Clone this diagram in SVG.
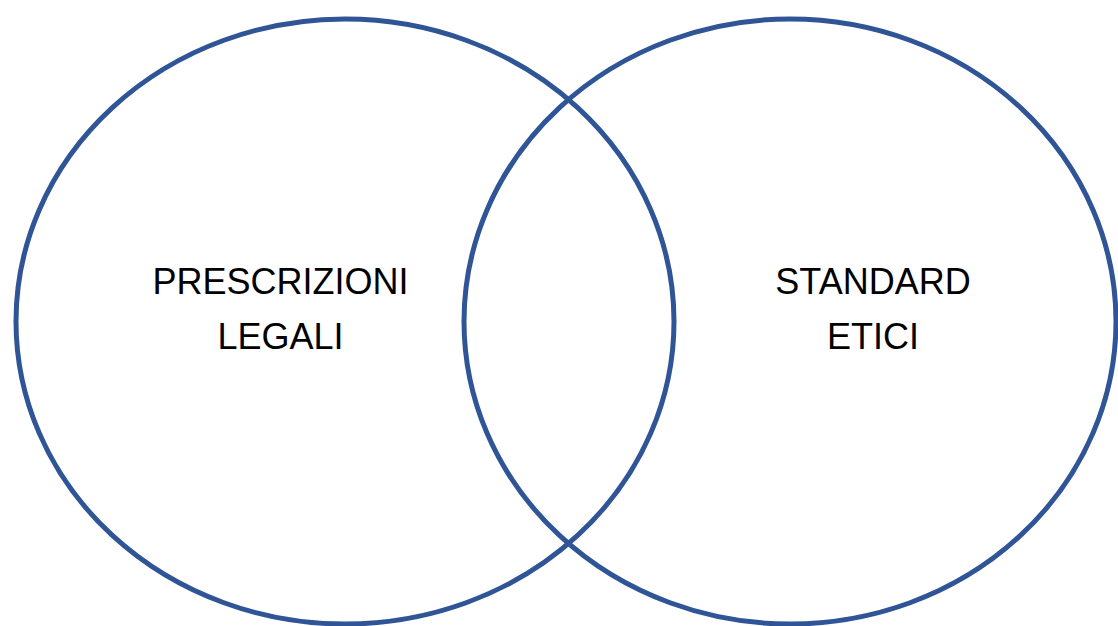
<svg xmlns="http://www.w3.org/2000/svg" width="1118" height="626" viewBox="0 0 1118 626">
<style>
.ring{fill:none;stroke:#2F5597;stroke-width:5}
.lbl{font-family:"Liberation Sans",Arial,sans-serif;font-size:36px;fill:#000;text-anchor:middle}
</style>
<rect width="1118" height="626" fill="#fff"/>
<g id="legali">
<ellipse class="ring" cx="345" cy="321.5" rx="329" ry="302.5"/>
<text class="lbl" x="280.5" y="293.5">PRESCRIZIONI</text>
<text class="lbl" x="280.5" y="349">LEGALI</text>
</g>
<g id="etici">
<ellipse class="ring" cx="790" cy="321.5" rx="326" ry="302.5"/>
<text class="lbl" x="873" y="293.5">STANDARD</text>
<text class="lbl" x="873" y="349">ETICI</text>
</g>
<g id="connectors"/>
</svg>
